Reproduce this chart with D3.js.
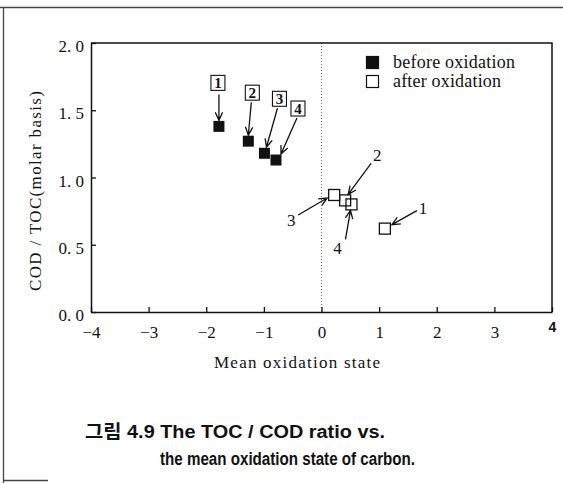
<!DOCTYPE html>
<html>
<head>
<meta charset="utf-8">
<script src="https://cdn.jsdelivr.net/npm/d3@7"></script>
<style>
  body { margin: 0; background: #fff; }
  svg { display: block; }
</style>
</head>
<body>
<div id="chart"></div>
<script>
// data
var xTicks = [-4, -3, -2, -1, 0, 1, 2, 3, 4];
var yTicks = [0, 0.5, 1.0, 1.5, 2.0];
var compounds = ["1", "2", "3", "4"];
var beforeX = [-1.78, -1.27, -0.99, -0.79];
var beforeY = [1.38, 1.27, 1.18, 1.13];
var afterX = [1.10, 0.41, 0.22, 0.52];
var afterY = [0.62, 0.83, 0.87, 0.80];
var legendLabels = ["before oxidation", "after oxidation"];

// annotation layout (pixel offsets from each point)
var beforeNote = [
  { lx: -1, ly: -43, ax: 0, ay: -32, bx: 0, by: -6 },
  { lx: 4, ly: -48, ax: 3, ay: -39, bx: 0, by: -6 },
  { lx: 15, ly: -54, ax: 13, ay: -45, bx: 2, by: -6 },
  { lx: 22, ly: -51, ax: 21, ay: -42, bx: 5, by: -6 }
];
var afterNote = [
  { lx: 38, ly: -21, ax: 32, ay: -18, bx: 7, by: -4 },
  { lx: 32, ly: -45, ax: 26, ay: -37, bx: 3, by: -6 },
  { lx: -43, ly: 25, ax: -36, ay: 20, bx: -7, by: 3 },
  { lx: -14, ly: 44, ax: -6, ay: 35, bx: -1, by: 6 }
];

var drawChart = function() {
  var W = 563, H = 483;
  var mLeft = 91, mRight = 552, mTop = 43, mBottom = 312;

  var svg = d3.select("#chart").append("svg")
    .attr("width", W).attr("height", H);

  var serif = "'Liberation Serif', 'DejaVu Serif', serif";
  var narrow = "'Liberation Sans', 'Noto Sans CJK KR', sans-serif";

  // page border of the scanned figure
  svg.append("path")
    .attr("d", "M0,7.5H563 M3.5,7V483 M3,480.5H48")
    .attr("fill", "none").attr("stroke", "#444").attr("stroke-width", 1.3);

  var x = d3.scaleLinear().domain([-4, 4]).range([mLeft, mRight]);
  var y = d3.scaleLinear().domain([0, 2]).range([mBottom, mTop]);

  // dotted line at zero
  svg.append("line")
    .attr("x1", x(0)).attr("x2", x(0))
    .attr("y1", y(2)).attr("y2", y(0))
    .attr("stroke", "#777").attr("stroke-width", 1)
    .attr("stroke-dasharray", "1,2");

  // frame top / right
  svg.append("path")
    .attr("d", "M" + x(-4) + "," + y(2) + "H" + x(4) + "V" + y(0))
    .attr("fill", "none").attr("stroke", "#111").attr("stroke-width", 1.5);

  var xAxis = svg.append("g")
    .attr("transform", "translate(0," + mBottom + ")")
    .call(d3.axisBottom(x).tickValues(xTicks)
      .tickSizeInner(-5).tickSizeOuter(0).tickPadding(14)
      .tickFormat(function(d) { return d < 0 ? "\u2212" + Math.abs(d) : String(d); }));

  var yAxis = svg.append("g")
    .attr("transform", "translate(" + mLeft + ",0)")
    .call(d3.axisLeft(y).tickValues(yTicks)
      .tickSizeInner(-5).tickSizeOuter(0).tickPadding(6)
      .tickFormat(function(d) { return d.toFixed(1).replace(".", ". "); }));

  [xAxis, yAxis].forEach(function(g) {
    g.select(".domain").attr("stroke", "#111").attr("stroke-width", 1.5);
    g.selectAll(".tick line").attr("stroke", "#111").attr("stroke-width", 1.3);
    g.selectAll(".tick text")
      .attr("fill", "#111")
      .style("font-family", serif)
      .style("font-size", "17px");
  });
  yAxis.selectAll(".tick text").attr("dy", "0.5em").attr("dx", "-1");
  xAxis.selectAll(".tick text").filter(function(d) { return d === 4; })
    .style("font-family", "'Liberation Sans', sans-serif")
    .style("font-weight", "bold")
    .style("font-size", "14px")
    .attr("dy", "0.45em");

  // axis titles
  svg.append("text")
    .attr("x", 297).attr("y", 368)
    .attr("text-anchor", "middle")
    .attr("textLength", 166).attr("lengthAdjust", "spacing")
    .style("font-family", serif).style("font-size", "17px")
    .attr("fill", "#111")
    .text("Mean oxidation state");

  svg.append("text")
    .attr("transform", "translate(41,191) rotate(-90)")
    .attr("text-anchor", "middle")
    .attr("textLength", 200).attr("lengthAdjust", "spacing")
    .style("font-family", serif).style("font-size", "17px")
    .attr("fill", "#111")
    .text("COD / TOC(molar basis)");

  // legend
  var legend = svg.append("g").attr("transform", "translate(366,56)");
  legendLabels.forEach(function(t, i) {
    legend.append("rect")
      .attr("x", 0.5).attr("y", i * 19 + 0.5)
      .attr("width", 12).attr("height", 12)
      .attr("fill", i === 0 ? "#111" : "#fff")
      .attr("stroke", "#111").attr("stroke-width", 1.2);
    legend.append("text")
      .attr("x", 27).attr("y", i * 19 + 12)
      .attr("textLength", i === 0 ? 122 : 108).attr("lengthAdjust", "spacing")
      .style("font-family", serif).style("font-size", "18px")
      .attr("fill", "#111")
      .text(t);
  });

  function arrow(g, x1, y1, x2, y2) {
    var a = Math.atan2(y2 - y1, x2 - x1), L = 9, s = 0.42;
    g.append("path")
      .attr("d", "M" + x1 + "," + y1 + "L" + x2 + "," + y2 +
        "M" + (x2 - L * Math.cos(a - s)) + "," + (y2 - L * Math.sin(a - s)) +
        "L" + x2 + "," + y2 +
        "L" + (x2 - L * Math.cos(a + s)) + "," + (y2 - L * Math.sin(a + s)))
      .attr("fill", "none").attr("stroke", "#111").attr("stroke-width", 1.3);
  }

  var notes = svg.append("g");
  var sz = 11;

  // before oxidation: filled squares with boxed numbers
  compounds.forEach(function(c, i) {
    var px = x(beforeX[i]), py = y(beforeY[i]), n = beforeNote[i];
    notes.append("rect")
      .attr("x", px - sz / 2).attr("y", py - sz / 2)
      .attr("width", sz).attr("height", sz)
      .attr("fill", "#111");
    notes.append("rect")
      .attr("x", px + n.lx - 7).attr("y", py + n.ly - 8)
      .attr("width", 14).attr("height", 15)
      .attr("fill", "#fff").attr("stroke", "#111").attr("stroke-width", 1.1);
    notes.append("text")
      .attr("x", px + n.lx).attr("y", py + n.ly + 5)
      .attr("text-anchor", "middle")
      .style("font-family", serif).style("font-size", "15px").style("font-weight", "bold")
      .attr("fill", "#111")
      .text(c);
    arrow(notes, px + n.ax, py + n.ay, px + n.bx, py + n.by);
  });

  // after oxidation: open squares with plain numbers
  compounds.forEach(function(c, i) {
    var px = x(afterX[i]), py = y(afterY[i]), n = afterNote[i];
    notes.append("rect")
      .attr("x", px - sz / 2).attr("y", py - sz / 2)
      .attr("width", sz).attr("height", sz)
      .attr("fill", "none").attr("stroke", "#111").attr("stroke-width", 1.3);
    notes.append("text")
      .attr("x", px + n.lx).attr("y", py + n.ly + 6)
      .attr("text-anchor", "middle")
      .style("font-family", serif).style("font-size", "17px")
      .attr("fill", "#111")
      .text(c);
    arrow(notes, px + n.ax, py + n.ay, px + n.bx, py + n.by);
  });

  // caption
  svg.append("text")
    .attr("x", 85).attr("y", 438)
    .attr("textLength", 300).attr("lengthAdjust", "spacingAndGlyphs")
    .style("font-family", narrow).style("font-size", "18px").style("font-weight", "bold")
    .attr("fill", "#111")
    .text("그림 4.9  The TOC / COD ratio vs.");

  svg.append("text")
    .attr("x", 160).attr("y", 465)
    .attr("textLength", 255).attr("lengthAdjust", "spacingAndGlyphs")
    .style("font-family", narrow).style("font-size", "18px").style("font-weight", "bold")
    .attr("fill", "#111")
    .text("the mean oxidation state of carbon.");
};

drawChart();
</script>
</body>
</html>
